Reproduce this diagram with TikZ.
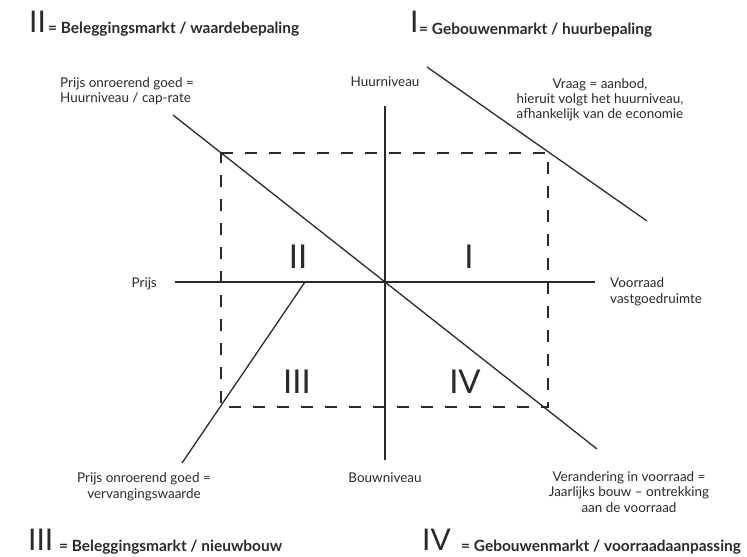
\documentclass[tikz,border=0pt]{standalone}
\usepackage{fontspec}
\setmainfont{Lato}
\definecolor{ink}{HTML}{2A2A2A}
\begin{document}
\begin{tikzpicture}[x=1bp,y=-1bp,
  lbl/.style={inner sep=0pt, text=ink, font=\fontsize{13.5}{15.3}\selectfont},
  ttl/.style={inner sep=0pt, text=ink, font=\fontsize{15.5}{16}\selectfont\bfseries},
  bignum/.style={inner sep=0pt, text=ink, font=\fontsize{30}{30}\selectfont},
  qnum/.style={inner sep=0pt, text=ink, font=\fontsize{33}{33}\selectfont},
  axis/.style={draw=ink, line width=1.6pt},
  curve/.style={draw=ink, line width=1.3pt},
  guide/.style={draw=ink, line width=1.1pt, dash pattern=on 12bp off 12bp}]
\useasboundingbox (0,0) rectangle (747,557);
% coordinates
\coordinate (O) at (385,282);
\coordinate (vt) at (385,106);
\coordinate (vb) at (385,460);
\coordinate (hl) at (175,282);
\coordinate (hr) at (595,282);
\coordinate (tl) at (221,153);
\coordinate (tr) at (548,153);
\coordinate (bl) at (221,407);
\coordinate (br) at (548,407);
\coordinate (dA) at (173,115);
\coordinate (dB) at (597,449);
\coordinate (eA) at (427,67);
\coordinate (eB) at (647,221);
\coordinate (fA) at (305,282);
\coordinate (fB) at (182,463);
% dashed rectangle
\draw[guide] (tl) -- (tr) -- (br) -- (bl) -- cycle;
% axes
\draw[axis] (vt) -- (vb);
\draw[axis] (hl) -- (hr);
% curves
\draw[curve] (dA) -- (dB);
\draw[curve] (eA) -- (eB);
\draw[curve] (fA) -- (fB);
% quadrant numerals
\node[qnum, anchor=base] (q2) at (298,269) {II};
\node[qnum, anchor=base] (q1) at (469,269) {I};
\node[qnum, anchor=base] (q3) at (297,393) {III};
\node[qnum, anchor=base] (q4) at (465,393) {IV};
% titles
\node[bignum, anchor=base west] (t2n) at (29,33) {II};
\node[ttl, anchor=base west] (t2) at (48,34) {= Beleggingsmarkt / waardebepaling};
\node[bignum, anchor=base west] (t1n) at (410,33) {I};
\node[ttl, anchor=base west] (t1) at (419,35) {= Gebouwenmarkt / huurbepaling};
\node[bignum, anchor=base west] (t3n) at (28,550) {III};
\node[ttl, anchor=base west] (t3) at (59,551) {= Beleggingsmarkt / nieuwbouw};
\node[bignum, anchor=base west] (t4n) at (422,550) {IV};
\node[ttl, anchor=base west] (t4) at (461,551) {= Gebouwenmarkt / voorraadaanpassing};
% labels
\node[lbl, anchor=base west, align=left] (l1) at (60,103) {Prijs onroerend goed =\\Huurniveau / cap-rate};
\node[lbl, anchor=base] (l2) at (385,87) {Huurniveau};
\node[lbl, anchor=base, align=center] (l3) at (600,119) {Vraag = aanbod,\\hieruit volgt het huurniveau,\\afhankelijk van de economie};
\node[lbl, anchor=base east] (l4) at (157,288) {Prijs};
\node[lbl, anchor=base west, align=left] (l5) at (610,303) {Voorraad\\vastgoedruimte};
\node[lbl, anchor=base, align=center] (l6) at (144,498) {Prijs onroerend goed =\\vervangingswaarde};
\node[lbl, anchor=base] (l7) at (385,482) {Bouwniveau};
\node[lbl, anchor=base, align=center] (l8) at (629,512) {Verandering in voorraad =\\Jaarlijks bouw -- ontrekking\\aan de voorraad};
\end{tikzpicture}
\end{document}
